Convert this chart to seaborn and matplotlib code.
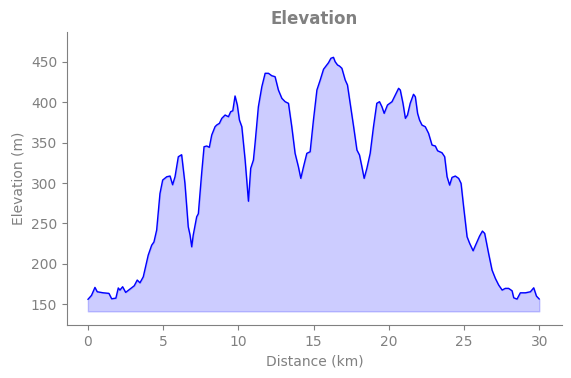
import numpy as np
import pandas as pd
import matplotlib
matplotlib.use("Agg")
import matplotlib.pyplot as plt
import seaborn as sns

distance_km = [0.0, 0.24, 0.47, 0.62, 1.02, 1.4, 1.58, 1.86, 2.02, 2.13, 2.31, 2.51, 2.8, 3.08,
               3.28, 3.46, 3.68, 4.01, 4.24, 4.39, 4.57, 4.79, 4.97, 5.24, 5.46, 5.63, 5.79,
               6.01, 6.23, 6.45, 6.67, 6.79, 6.9, 7.0, 7.23, 7.34, 7.56, 7.72, 7.9, 8.07, 8.23,
               8.45, 8.56, 8.74, 8.9, 9.12, 9.34, 9.49, 9.63, 9.78, 9.93, 10.07, 10.23, 10.45,
               10.67, 10.82, 11.0, 11.11, 11.33, 11.56, 11.78, 12.0, 12.22, 12.44, 12.66, 12.89,
               13.11, 13.33, 13.55, 13.77, 13.99, 14.15, 14.33, 14.55, 14.77, 14.99, 15.22,
               15.44, 15.66, 15.88, 15.99, 16.15, 16.32, 16.43, 16.59, 16.72, 16.88, 17.1,
               17.25, 17.43, 17.66, 17.88, 18.05, 18.21, 18.36, 18.54, 18.76, 18.98, 19.2,
               19.38, 19.54, 19.69, 19.91, 20.21, 20.43, 20.65, 20.76, 20.94, 21.1, 21.24,
               21.42, 21.64, 21.76, 21.91, 22.04, 22.2, 22.42, 22.64, 22.87, 23.09, 23.24,
               23.53, 23.71, 23.87, 24.04, 24.2, 24.42, 24.64, 24.8, 24.97, 25.2, 25.37, 25.6,
               25.82, 26.03, 26.22, 26.37, 26.63, 26.86, 27.08, 27.3, 27.53, 27.74, 27.96,
               28.19, 28.3, 28.52, 28.74, 29.08, 29.41, 29.63, 29.81, 30.0]
elevation_m = [155.8, 160.8, 170.7, 165.3, 164, 163.3, 156.6, 157.4, 170, 167.4, 171.5, 164.5,
               168.6, 172.7, 179.8, 176.4, 183.8, 210.7, 223, 227, 241.7, 287, 303.7, 307.8,
               308.7, 297.9, 307.8, 332.6, 335.1, 299.6, 245.8, 235.5, 221, 235.5, 258.2,
               262, 312, 345, 345.9, 344.3, 359.5, 369.8, 371.9, 374, 380.2, 384.3, 382.2,
               388.4, 389.6, 407.9, 396.7, 378.1, 369.8, 328.5, 277.5, 318.2, 328.5, 349.2,
               394.6, 419.4, 436, 436, 433, 431.8, 415.3, 405, 400.8, 398.8, 369.8, 336.8,
               320.2, 305.8, 320.2, 336.8, 338.8, 378.1, 415.3, 427.7, 441, 446.3, 449.1,
               454.6, 455.8, 450.4, 446.3, 445, 442.2, 427.7, 421.5, 398.8, 369.8, 340.9,
               334.7, 320.2, 305.8, 318.2, 336.8, 369.8, 398.8, 400.8, 394.6, 386.4, 396.7,
               400.8, 409.1, 417.4, 415.3, 398.8, 380.2, 384.3, 398.8, 410, 407, 386.4, 378.1,
               371.9, 369.8, 361.6, 347.1, 345.9, 340, 337.6, 332.6, 307.8, 297.5, 307, 308.7,
               305.8, 299.6, 270.6, 233.4, 225.3, 216.1, 225.3, 234.3, 240.5, 237.6, 212.8,
               192.1, 181.8, 173.6, 167.4, 169.5, 169.5, 166.5, 157.8, 156.2, 164, 164, 165.3,
               170.2, 159.9, 156.2]
fill_base = 141

df = pd.DataFrame({"Distance (km)": distance_km, "Elevation (m)": elevation_m})

sns.set_style("ticks")
plt.rcParams['font.family'] = ['DejaVu Sans']
gray = "#808080"

fig = plt.figure(figsize=(5.71, 3.78), dpi=100)
ax = fig.add_axes([0.117, 0.140, 0.867, 0.775])
sns.lineplot(data=df, x="Distance (km)", y="Elevation (m)", color="blue", linewidth=1, ax=ax)
ax.fill_between(df["Distance (km)"], df["Elevation (m)"], fill_base, color="blue", alpha=0.2)

ax.set_xlim(-1.4, 31.5)
ax.set_ylim(124, 487)
ax.set_xticks([0, 5, 10, 15, 20, 25, 30])
ax.set_yticks([150, 200, 250, 300, 350, 400, 450])
ax.set_title("Elevation", color=gray, fontsize=12, fontweight="bold")
ax.set_xlabel("Distance (km)", color=gray, fontsize=10)
ax.set_ylabel("Elevation (m)", color=gray, fontsize=10)
ax.tick_params(colors=gray, labelsize=10)
for s in ["left", "bottom"]:
    ax.spines[s].set_color(gray)
sns.despine(ax=ax)

fig.savefig("out.png", dpi=100)
